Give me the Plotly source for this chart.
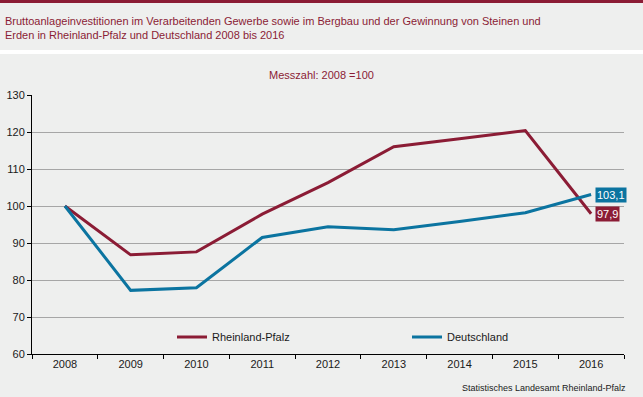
import plotly.graph_objects as go

years = ["2008", "2009", "2010", "2011", "2012", "2013", "2014", "2015", "2016"]
rlp = [100, 86.8, 87.6, 97.8, 106.3, 116.0, 118.2, 120.4, 97.9]
de = [100, 77.2, 77.9, 91.5, 94.4, 93.6, 95.8, 98.2, 103.1]
y_ticks = [60, 70, 80, 90, 100, 110, 120, 130]
title_lines = [
    "Bruttoanlageinvestitionen im Verarbeitenden Gewerbe sowie im Bergbau und der Gewinnung von Steinen und",
    "Erden in Rheinland-Pfalz und Deutschland 2008 bis 2016",
]

MAROON = "#8b1c35"
TEAL = "#0b74a0"
BG = "#eeefee"

W, H = 643, 397
L, R, T, B = 32, 19, 95, 43
ph = H - T - B
pw = W - L - R

def py(p):
    return (H - B - p) / ph

def px(p):
    return (p - L) / pw

fig = go.Figure()
fig.add_trace(go.Scatter(x=years, y=rlp, mode="lines", name="Rheinland-Pfalz",
                         line=dict(color=MAROON, width=3)))
fig.add_trace(go.Scatter(x=years, y=de, mode="lines", name="Deutschland",
                         line=dict(color=TEAL, width=3)))

fig.update_layout(
    width=W, height=H,
    margin=dict(l=L, r=R, t=T, b=B, autoexpand=False),
    paper_bgcolor=BG, plot_bgcolor=BG,
    font=dict(family="Liberation Sans, Arial, sans-serif", color="#1a1a1a", size=11),
    showlegend=True,
    legend=dict(orientation="h", x=px(172), y=py(337), xanchor="left", yanchor="middle",
                bgcolor="rgba(0,0,0,0)", font=dict(size=11, color="#1a1a1a"),
                entrywidth=190, entrywidthmode="pixels", itemwidth=30),
)
fig.update_xaxes(type="category", range=[-0.5, 8.5], showline=True, linecolor="#000000",
                 linewidth=1, ticks="outside", ticklen=4, tickcolor="#000000",
                 tickson="boundaries", showgrid=False, zeroline=False,
                 tickfont=dict(size=11, color="#1a1a1a"))
fig.update_yaxes(range=[60, 130], tickvals=y_ticks, showline=True, linecolor="#000000",
                 linewidth=1, ticks="outside", ticklen=4, tickcolor="#000000",
                 showgrid=True, gridcolor="#a6a6a6", gridwidth=1, zeroline=False,
                 tickfont=dict(size=11, color="#1a1a1a"))

shapes = [
    dict(type="rect", xref="paper", yref="paper", x0=px(0), x1=px(W), y0=py(3), y1=py(0),
         fillcolor=MAROON, line=dict(width=0), layer="above"),
    dict(type="rect", xref="paper", yref="paper", x0=px(0), x1=px(W), y0=py(54), y1=py(50),
         fillcolor="#ffffff", line=dict(width=0), layer="above"),
]
fig.update_layout(shapes=shapes)

last = len(years) - 1
annotations = [
    dict(xref="paper", yref="paper", x=px(3), y=py(21), xanchor="left", yanchor="middle",
         showarrow=False, text=title_lines[0], font=dict(size=11, color=MAROON)),
    dict(xref="paper", yref="paper", x=px(3), y=py(35), xanchor="left", yanchor="middle",
         showarrow=False, text=title_lines[1], font=dict(size=11, color=MAROON)),
    dict(xref="paper", yref="paper", x=px(321), y=py(75), xanchor="center", yanchor="middle",
         showarrow=False, text="Messzahl: 2008 =100", font=dict(size=11, color=MAROON)),
    dict(xref="paper", yref="paper", x=px(628), y=py(388), xanchor="right", yanchor="middle",
         showarrow=False, text="Statistisches Landesamt Rheinland-Pfalz",
         font=dict(size=9, color="#1a1a1a")),
    dict(x=last, y=de[-1], xanchor="left", yanchor="middle", xshift=4, showarrow=False,
         text=f"{de[-1]:.1f}".replace(".", ","), bgcolor=TEAL, borderpad=1,
         font=dict(size=11, color="#ffffff")),
    dict(x=last, y=rlp[-1], xanchor="left", yanchor="middle", xshift=4, showarrow=False,
         text=f"{rlp[-1]:.1f}".replace(".", ","), bgcolor=MAROON, borderpad=1,
         font=dict(size=11, color="#ffffff")),
]
fig.update_layout(annotations=annotations)

fig.write_html("out.html", config={"displayModeBar": False},
               post_script="document.body.style.margin='0';")
